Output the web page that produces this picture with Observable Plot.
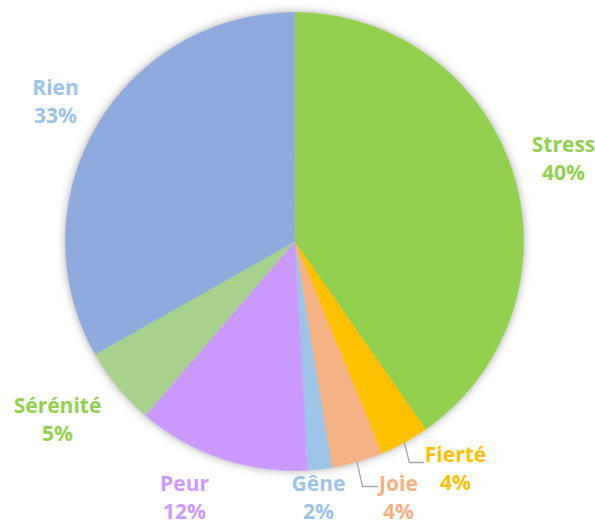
<!DOCTYPE html>
<html>
<head>
<meta charset="utf-8">
<script src="https://cdn.jsdelivr.net/npm/d3@7"></script>
<script src="https://cdn.jsdelivr.net/npm/@observablehq/plot@0.6"></script>
<style>
  html, body { margin: 0; padding: 0; background: #fff; }
  #chart svg { display: block; }
  #chart g[aria-label="dot"] { filter: drop-shadow(0 0 5px rgba(0,0,0,0.35)); }
</style>
</head>
<body>
<div id="chart"></div>
<script>
// ---- data ----
const categories = ["Stress", "Fierté", "Joie", "Gêne", "Peur", "Sérénité", "Rien"];
const values = [40.3, 3.5, 3.6, 1.7, 12.2, 5.5, 33.2];
const percentLabels = ["40%", "4%", "4%", "2%", "12%", "5%", "33%"];
const sliceColors = ["#92D050", "#FFC000", "#F4B183", "#9DC3E6", "#CC99FF", "#A9D18E", "#8FAADC"];
const labelColors = ["#92D050", "#FFC000", "#F4B183", "#9DC3E6", "#CC99FF", "#92D050", "#9DC3E6"];

// ---- layout ----
const W = 595, H = 525;
const cx = 294, cy = 241, R = 229;
const labelPos = {
  "Stress":   {x: 563, y: 157},
  "Fierté":   {x: 455, y: 467},
  "Joie":     {x: 398, y: 496},
  "Gêne":     {x: 318, y: 496},
  "Peur":     {x: 184, y: 496},
  "Sérénité": {x: 57,  y: 418},
  "Rien":     {x: 55,  y: 100}
};
// leader line elbows for small slices
const leaders = {
  "Fierté": [{x: 409, y: 462}, {x: 423, y: 462}],
  "Joie":   [{x: 362, y: 486}, {x: 377, y: 486}]
};

const arcs = d3.pie().sort(null).startAngle(0).endAngle(2 * Math.PI)(values);
const pt = (a, r) => ({x: cx + r * Math.sin(a), y: cy - r * Math.cos(a)});

const slices = arcs.map((a, i) => {
  const pts = [pt(0, 0)];
  const n = Math.max(2, Math.ceil((a.endAngle - a.startAngle) / 0.01));
  for (let k = 0; k <= n; k++) pts.push(pt(a.startAngle + (a.endAngle - a.startAngle) * k / n, R));
  return {name: categories[i], color: sliceColors[i], points: pts};
});

const leaderLines = arcs.map((a, i) => {
  const name = categories[i];
  if (!leaders[name]) return null;
  const mid = (a.startAngle + a.endAngle) / 2;
  return [pt(mid, R), ...leaders[name]];
}).filter(Boolean);

const labels = categories.map((c, i) => ({
  x: labelPos[c].x, y: labelPos[c].y,
  text: c + "\n" + percentLabels[i],
  color: labelColors[i]
}));

const chart = Plot.plot({
  width: W, height: H, margin: 0,
  x: {domain: [0, W], range: [0, W], axis: null},
  y: {domain: [0, H], range: [0, H], axis: null},
  style: {background: "#fff"},
  marks: [
    Plot.dot([{x: cx, y: cy}], {x: "x", y: "y", r: R, fill: "#fff", stroke: "none"}),
    ...slices.map(s => Plot.line(s.points, {x: "x", y: "y", fill: s.color, stroke: s.color, strokeWidth: 0.6, curve: "linear-closed"})),
    ...leaderLines.map(l => Plot.line(l, {x: "x", y: "y", stroke: "#A6A6A6", strokeWidth: 1.3})),
    Plot.text(labels, {
      x: "x", y: "y", text: "text", fill: "color",
      fontFamily: "Open Sans", fontWeight: "bold", fontSize: 21, lineHeight: 1.33,
      textAnchor: "middle"
    })
  ]
});
document.getElementById("chart").appendChild(chart);
</script>
</body>
</html>
